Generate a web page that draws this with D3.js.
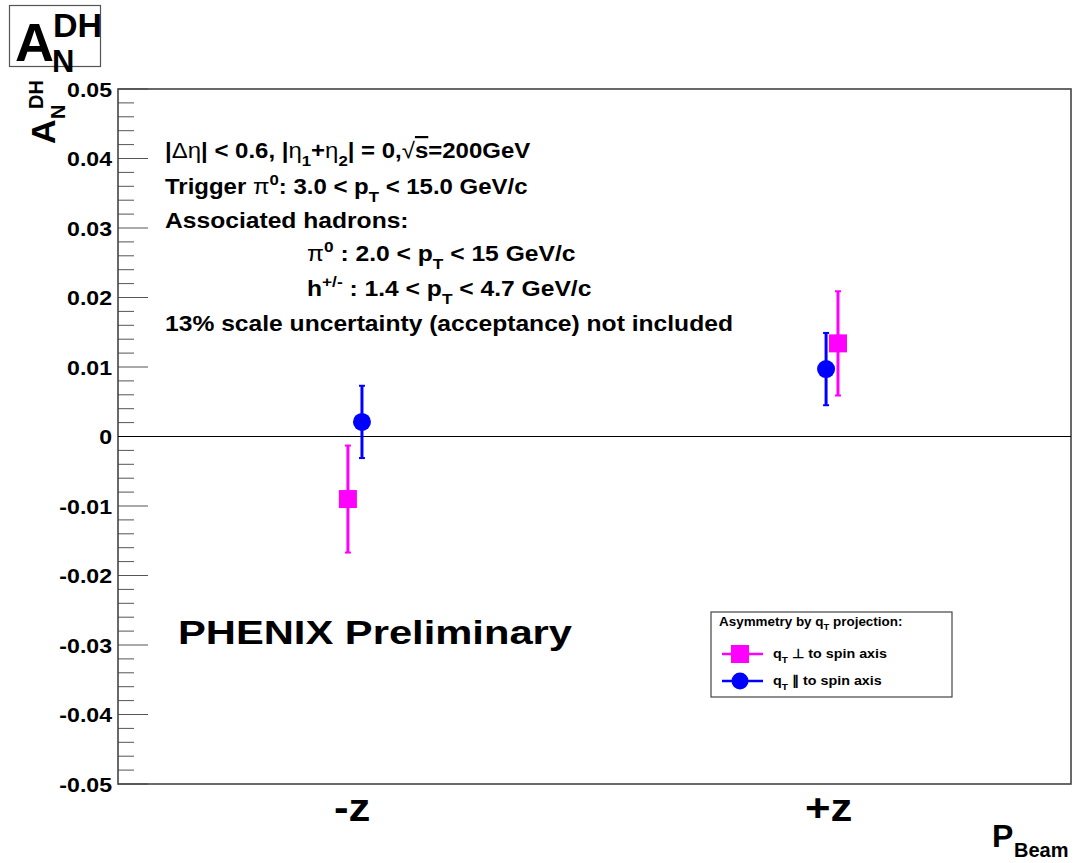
<!DOCTYPE html>
<html><head><meta charset="utf-8">
<script src="https://cdn.jsdelivr.net/npm/d3@7"></script>
<style>body{margin:0;background:#fff}svg{display:block}text{font-family:"Liberation Sans",Arial,sans-serif;font-weight:bold}</style>
</head><body>
<svg id="c" width="1074" height="863"></svg>
<script>
// ---- data ----
const categories = ["-z", "+z"];
const categoryX = [1, 3];
const perpX = [0.965, 3.022];          // q_T ⊥ to spin axis (magenta)
const perpValues = [-0.0090, 0.0134];
const perpErrors = [0.0077, 0.0075];
const paraX = [1.024, 2.972];          // q_T ∥ to spin axis (blue)
const paraValues = [0.0021, 0.0097];
const paraErrors = [0.0052, 0.0052];
const yTicks = [-0.05,-0.04,-0.03,-0.02,-0.01,0,0.01,0.02,0.03,0.04,0.05];
const yTickLabels = ["-0.05","-0.04","-0.03","-0.02","-0.01","0","0.01","0.02","0.03","0.04","0.05"];

const svg = d3.select("#c");
const L = 118, R = 1071, T = 89, B = 784;
const x = d3.scaleLinear().domain([0, 4]).range([L, R]);
const y = d3.scaleLinear().domain([-0.05, 0.05]).range([B, T]);

function stretch(sel, f) {
  sel.each(function() {
    const w = this.getComputedTextLength();
    d3.select(this).attr("textLength", w * f).attr("lengthAdjust", "spacingAndGlyphs");
  });
}

// minor/major ticks
const minor = d3.range(-0.05, 0.0501, 0.002).map(v => +v.toFixed(4));
svg.append("g").selectAll("line").data(minor).join("line")
  .attr("x1", L).attr("x2", d => Math.abs(Math.round(d*1000) % 10) === 0 ? L + 30 : L + 16)
  .attr("y1", d => y(d)).attr("y2", d => y(d))
  .attr("stroke", "#555").attr("stroke-width", 1);

// y axis labels via d3 axis (no tick lines)
const yAxis = d3.axisLeft(y).tickValues(yTicks).tickSize(0).tickPadding(6)
  .tickFormat((d, i) => yTickLabels[i]);
const ga = svg.append("g").attr("transform", `translate(${L},0)`).call(yAxis);
ga.select(".domain").remove();
ga.selectAll("text").attr("font-size", 21).attr("font-weight", "bold")
  .attr("font-family", '"Liberation Sans",Arial,sans-serif').attr("fill", "#000")
  .attr("dy", "0.35em");
stretch(ga.selectAll("text"), 1.1);

// frame
svg.append("rect").attr("x", L).attr("y", T).attr("width", R - L).attr("height", B - T)
  .attr("fill", "none").attr("stroke", "#444").attr("stroke-width", 1.6);

// zero line
svg.append("line").attr("x1", L).attr("x2", R).attr("y1", y(0)).attr("y2", y(0))
  .attr("stroke", "#000").attr("stroke-width", 1);

// category labels
const cl = svg.append("g").selectAll("text").data(categories).join("text")
  .attr("x", (d, i) => x(categoryX[i]) - 4).attr("y", 821)
  .attr("text-anchor", "middle").attr("font-size", 38).text(d => d);
stretch(cl, 1.15);

// error bars
function errs(xs, vs, es, color) {
  const g = svg.append("g");
  const d = xs.map((xv, i) => ({x: xv, v: vs[i], e: es[i]}));
  g.selectAll("line.v").data(d).join("line")
    .attr("x1", p => x(p.x)).attr("x2", p => x(p.x))
    .attr("y1", p => y(p.v + p.e)).attr("y2", p => y(p.v - p.e))
    .attr("stroke", color).attr("stroke-width", 3);
  ["top", "bot"].forEach(k => {
    g.selectAll("line." + k).data(d).join("line")
      .attr("x1", p => x(p.x) - 3).attr("x2", p => x(p.x) + 3)
      .attr("y1", p => y(k === "top" ? p.v + p.e : p.v - p.e))
      .attr("y2", p => y(k === "top" ? p.v + p.e : p.v - p.e))
      .attr("stroke", color).attr("stroke-width", 2);
  });
  return d;
}
const pd = errs(perpX, perpValues, perpErrors, "#ff00ff");
const bd = errs(paraX, paraValues, paraErrors, "#0000ff");

svg.append("g").selectAll("rect").data(pd).join("rect")
  .attr("x", p => x(p.x) - 9).attr("y", p => y(p.v) - 9)
  .attr("width", 18).attr("height", 18).attr("fill", "#ff00ff");
svg.append("g").selectAll("circle").data(bd).join("circle")
  .attr("cx", p => x(p.x)).attr("cy", p => y(p.v)).attr("r", 9).attr("fill", "#0000ff");

// annotation text
function line(xp, yp, size, parts, sx) {
  const t = svg.append("text").attr("x", 0).attr("y", 0).attr("font-size", size)
    .attr("transform", `translate(${xp},${yp}) scale(${sx || 1},1)`);
  let shift = 0;
  parts.forEach(p => {
    const s = typeof p === "string" ? {t: p} : p;
    let target = 0;
    if (s.sub) target = size * 0.35;
    if (s.sup) target = -size * 0.4;
    const ts = t.append("tspan").text(s.t).attr("dy", target - shift);
    if (s.sub || s.sup) ts.attr("font-size", size * 0.7);
    if (s.normal) ts.attr("font-weight", "normal");
    if (s.over) ts.attr("text-decoration", "overline");
    shift = target;
  });
  return t;
}
const fs = 22, sx = 1.12;
line(165, 158, fs, ["|", {t: "Δη", normal: true}, "| < 0.6, |", {t: "η", normal: true}, {t: "1", sub: true}, "+", {t: "η", normal: true}, {t: "2", sub: true}, "| = 0,", {t: "√", normal: true}, {t: "s", over: true}, "=200GeV"], 1.09);
line(165, 194, fs, ["Trigger ", {t: "π", normal: true}, {t: "0", sup: true}, ":  3.0 < p", {t: "T", sub: true}, " < 15.0 GeV/c"], 1.09);
line(165, 228, fs, ["Associated hadrons:"], sx);
line(307, 261, fs, [{t: "π", normal: true}, {t: "0", sup: true}, " : 2.0 < p", {t: "T", sub: true}, " < 15 GeV/c"], sx);
line(307, 296, fs, ["h", {t: "+/-", sup: true}, " : 1.4 < p", {t: "T", sub: true}, " < 4.7 GeV/c"], sx);
line(165, 331, fs, ["13% scale uncertainty (acceptance) not included"], sx);

const ph = svg.append("text").attr("x", 178).attr("y", 644).attr("font-size", 33).text("PHENIX Preliminary");
ph.attr("textLength", 394).attr("lengthAdjust", "spacingAndGlyphs");

// legend
const lg = svg.append("g");
lg.append("rect").attr("x", 711).attr("y", 612).attr("width", 241).attr("height", 85)
  .attr("fill", "#fff").attr("stroke", "#444").attr("stroke-width", 1.2);
line(719, 626, 12, ["Asymmetry by q", {t: "T", sub: true}, " projection:"], 1.12);
const legItems = [
  {color: "#ff00ff", shape: "square", sym: "⊥", yy: 654},
  {color: "#0000ff", shape: "circle", sym: "∥", yy: 681}
];
legItems.forEach(it => {
  lg.append("line").attr("x1", 722).attr("x2", 763).attr("y1", it.yy).attr("y2", it.yy)
    .attr("stroke", it.color).attr("stroke-width", 2.5);
  if (it.shape === "square") lg.append("rect").attr("x", 731).attr("y", it.yy - 9).attr("width", 18).attr("height", 18).attr("fill", it.color);
  else lg.append("circle").attr("cx", 740).attr("cy", it.yy).attr("r", 8.5).attr("fill", it.color);
  line(773, it.yy + 4, 13, ["q", {t: "T", sub: true}, " ", {t: it.sym}, "  to spin axis"], 1.1);
});

// title box
svg.append("rect").attr("x", 9.5).attr("y", 5.5).attr("width", 91).attr("height", 61)
  .attr("fill", "#fff").attr("stroke", "#555").attr("stroke-width", 1.2);
svg.append("text").attr("x", 15).attr("y", 61).attr("font-size", 54).text("A");
svg.append("text").attr("x", 53).attr("y", 37).attr("font-size", 34).text("DH");
svg.append("text").attr("x", 52).attr("y", 72).attr("font-size", 31).text("N");

// y axis title (rotated)
const yt = svg.append("g").attr("transform", "translate(55,144) rotate(-90)");
yt.append("text").attr("x", 0).attr("y", 0).attr("font-size", 34).text("A");
yt.append("text").attr("x", 25).attr("y", 10).attr("font-size", 20).text("N");
yt.append("text").attr("x", 35).attr("y", -12).attr("font-size", 20).text("DH");

// x axis title
svg.append("text").attr("x", 992).attr("y", 847).attr("font-size", 32).text("P");
svg.append("text").attr("x", 1014).attr("y", 857).attr("font-size", 20).text("Beam");
</script>
</body></html>
